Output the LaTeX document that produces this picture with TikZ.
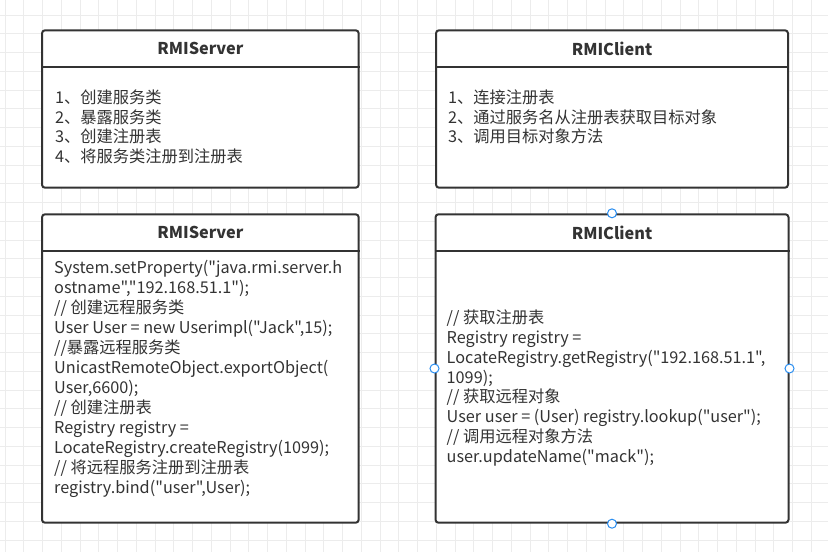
\documentclass[tikz,border=0pt]{standalone}
\usepackage{fontspec}
\setmainfont{Noto Sans CJK SC}[Ligatures=TeXOff]
\usetikzlibrary{calc}
\definecolor{boxline}{RGB}{51,51,51}
\definecolor{gridline}{RGB}{236,236,236}
\definecolor{handle}{RGB}{41,141,240}
\begin{document}
\begin{tikzpicture}
[x=1pt,y=-1pt,
  boxdecorate/.style={draw=boxline,line width=2pt,rounded corners=3pt,fill=white,anchor=north west,inner sep=0pt},
  headerline/.style={draw=boxline,line width=2pt},
  titletext/.style={font=\fontsize{16.25}{20}\selectfont\bfseries,text=boxline},
  linetext/.style={font=\fontsize{16.25}{20}\selectfont,text=boxline,anchor=base west,inner sep=0pt},
  handledecorate/.style={circle,draw=handle,fill=white,line width=1pt,minimum size=9pt,inner sep=0pt}]
\useasboundingbox (0,0) rectangle (828,552);
%% background grid
\foreach \k in {0,...,44}
{
  \draw[gridline,line width=1pt] ({5+18.75*\k},0) -- ({5+18.75*\k},552);
}
\foreach \k in {0,...,29}
{
  \draw[gridline,line width=1pt] (0,{15+18.75*\k}) -- (828,{15+18.75*\k});
}
%% boxes with their title and header line
\foreach \boxname/\x/\y/\w/\h/\title in {srvplan/41/29.3/316.7/157.4/RMIServer,
  cltplan/435/29.3/352/157.4/RMIClient, srvcode/41/213.3/316.7/308.4/RMIServer,
  cltcode/434.5/213.3/353/308.4/RMIClient}
{
  \node (\boxname) at (\x,\y) [boxdecorate,minimum width=\w pt,minimum height=\h pt] {};
  \node at ($(\boxname.north)+(0,19.5)$) [titletext] {\title};
  \draw[headerline] ($(\boxname.north west)+(0,37.4)$) -- ($(\boxname.north east)+(0,37.4)$);
}
%% lines of text
\foreach \txt [count=\i] in {1、创建服务类, 2、暴露服务类, 3、创建注册表, 4、将服务类注册到注册表}
{
  \node at (55,{78.6+19.7*\i+5}) [linetext] {\txt};
}
\foreach \txt [count=\i] in {1、连接注册表, 2、通过服务名从注册表获取目标对象, 3、调用目标对象方法}
{
  \node at (448,{78.6+19.7*\i+5}) [linetext] {\txt};
}
\foreach \txt [count=\i] in {{System.setProperty("java.rmi.server.h}, {ostname","192.168.51.1");},
  // 创建远程服务类, {User User = new Userimpl("Jack",15);}, //暴露远程服务类,
  UnicastRemoteObject.exportObject(, {User,6600);}, // 创建注册表, Registry registry =,
  LocateRegistry.createRegistry(1099);, // 将远程服务注册到注册表, {registry.bind("user",User);}}
{
  \node at (54,{248.3+20*\i+5}) [linetext] {\txt};
}
\foreach \txt [count=\i] in {// 获取注册表, Registry registry =, {LocateRegistry.getRegistry("192.168.51.1",},
  1099);, // 获取远程对象, {User user = (User) registry.lookup("user");}, // 调用远程对象方法,
  {user.updateName("mack");}}
{
  \node at (446.5,{298.4+19.9*\i+5}) [linetext] {\txt};
}
%% selection handles
\foreach \hname/\anchorname in {htop/north, hleft/west, hright/east, hbottom/south}
{
  \node (\hname) at (cltcode.\anchorname) [handledecorate] {};
}
\end{tikzpicture}
\end{document}
